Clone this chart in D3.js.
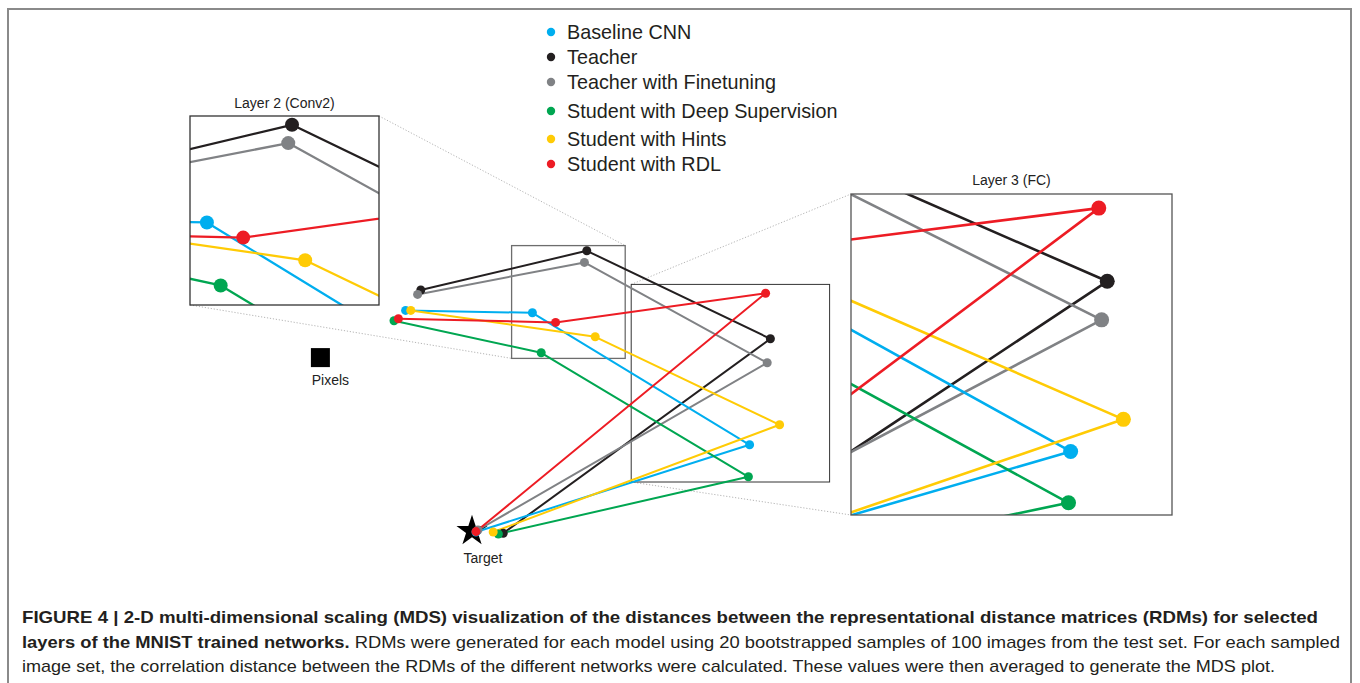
<!DOCTYPE html>
<html>
<head>
<meta charset="utf-8">
<script src="https://cdn.jsdelivr.net/npm/d3@7"></script>
<style>
  body { margin: 0; background: #fff; }
  svg { display: block; font-family: "Liberation Sans", Arial, sans-serif; }
</style>
</head>
<body>
<svg id="fig"></svg>
<script>
// ----------------------------------------
// Data (MDS coordinates)
// ----------------------------------------
const seriesNames = ["Baseline CNN", "Teacher", "Teacher with Finetuning",
  "Student with Deep Supervision", "Student with Hints", "Student with RDL"];
const seriesColors = ["#00aeef", "#231f20", "#808285", "#00a651", "#ffcb05", "#ed1c24"];
const layerNames = ["Conv1", "Conv2", "FC", "Output"];

// dim1 / dim2 per series, one value per layer
const dim1 = [
  [-0.166, 0.151, 0.694, 0.010],
  [-0.128, 0.287, 0.746, 0.078],
  [-0.136, 0.281, 0.738, 0.015],
  [-0.195, 0.173, 0.691, 0.066],
  [-0.153, 0.308, 0.769, 0.053],
  [-0.184, 0.209, 0.734, 0.010]
];
const dim2 = [
  [0.549, 0.543, 0.213, -0.005],
  [0.600, 0.698, 0.478, -0.008],
  [0.589, 0.669, 0.418, 0.000],
  [0.523, 0.443, 0.133, -0.010],
  [0.549, 0.483, 0.263, -0.005],
  [0.528, 0.519, 0.592, -0.004]
];
const drawOrder = [1, 2, 0, 3, 4, 5];

const pixelsPoint = [-0.379, 0.431];
const targetPoint = [0.0, 0.0];

// zoom windows: the box drawn on the main plot and the window shown in the inset
const zoomTitles = ["Layer 2 (Conv2)", "Layer 3 (FC)"];
const zoomBoxX = [[0.099, 0.383], [0.398, 0.894]];
const zoomBoxY = [[0.711, 0.429], [0.614, 0.120]];
const insetDomX = [[0.124, 0.426], [0.382, 0.838]];
const insetDomY = [[0.712, 0.412], [0.614, 0.114]];

const captionBold1 = "FIGURE 4 | 2-D multi-dimensional scaling (MDS) visualization of the distances between the representational distance matrices (RDMs) for selected";
const captionBold2 = "layers of the MNIST trained networks.";
const captionText2 = " RDMs were generated for each model using 20 bootstrapped samples of 100 images from the test set. For each sampled";
const captionText3 = "image set, the correlation distance between the RDMs of the different networks were calculated. These values were then averaged to generate the MDS plot.";

// ----------------------------------------
// Setup
// ----------------------------------------
const width = 1360, height = 683;
const svg = d3.select("#fig").attr("width", width).attr("height", height);

svg.append("rect")
  .attr("x", 8).attr("y", 9)
  .attr("width", 1343).attr("height", 720)
  .attr("fill", "none").attr("stroke", "#8a8a8a").attr("stroke-width", 2);

const x = d3.scaleLinear().domain([0, 1]).range([472, 872]);
const y = d3.scaleLinear().domain([0, 1]).range([530, 130]);

// inset placement
const insetRects = [
  {x0: 190, y0: 116, size: 189},
  {x0: 851, y0: 194, size: 321}
];

const series = drawOrder.map(i => ({
  name: seriesNames[i],
  color: seriesColors[i],
  pts: layerNames.map((l, j) => [dim1[i][j], dim2[i][j]])
}));

// ----------------------------------------
// Dotted connectors between zoom boxes and insets
// ----------------------------------------
const conn = svg.append("g")
  .attr("stroke", "#b5b5b5").attr("stroke-width", 1)
  .attr("stroke-dasharray", "1.2,1.8").attr("fill", "none");

// layer 2: inset top-right -> box top-right, inset bottom-left -> box bottom-left
conn.append("line")
  .attr("x1", insetRects[0].x0 + insetRects[0].size).attr("y1", insetRects[0].y0)
  .attr("x2", x(zoomBoxX[0][1])).attr("y2", y(zoomBoxY[0][0]));
conn.append("line")
  .attr("x1", insetRects[0].x0).attr("y1", insetRects[0].y0 + insetRects[0].size)
  .attr("x2", x(zoomBoxX[0][0])).attr("y2", y(zoomBoxY[0][1]));
// layer 3: box top-left -> inset top-left, box bottom-left -> inset bottom-left
conn.append("line")
  .attr("x1", x(zoomBoxX[1][0])).attr("y1", y(zoomBoxY[1][0]))
  .attr("x2", insetRects[1].x0).attr("y2", insetRects[1].y0);
conn.append("line")
  .attr("x1", x(zoomBoxX[1][0])).attr("y1", y(zoomBoxY[1][1]))
  .attr("x2", insetRects[1].x0).attr("y2", insetRects[1].y0 + insetRects[1].size);

// ----------------------------------------
// Main plot
// ----------------------------------------
const main = svg.append("g");

// zoom boxes
zoomBoxX.forEach((bx, k) => {
  main.append("rect")
    .attr("x", x(bx[0])).attr("y", y(zoomBoxY[k][0]))
    .attr("width", x(bx[1]) - x(bx[0]))
    .attr("height", y(zoomBoxY[k][1]) - y(zoomBoxY[k][0]))
    .attr("fill", "none")
    .attr("stroke", k === 0 ? "#6d6d6d" : "#333")
    .attr("stroke-width", k === 0 ? 1.3 : 1);
});

// pixels
main.append("rect")
  .attr("x", x(pixelsPoint[0]) - 9.5).attr("y", y(pixelsPoint[1]) - 9.5)
  .attr("width", 19).attr("height", 19).attr("fill", "#000");
main.append("text")
  .attr("x", x(pixelsPoint[0]) + 10).attr("y", y(pixelsPoint[1]) + 27)
  .attr("text-anchor", "middle").attr("font-size", 14).attr("fill", "#222")
  .text("Pixels");

// target star
main.append("path")
  .attr("transform", `translate(${x(targetPoint[0])},${y(targetPoint[1]) + 1})`)
  .attr("d", d3.symbol(d3.symbolStar).size(300)())
  .attr("fill", "#000");
main.append("text")
  .attr("x", x(targetPoint[0]) + 11).attr("y", y(targetPoint[1]) + 33)
  .attr("text-anchor", "middle").attr("font-size", 14).attr("fill", "#222")
  .text("Target");

function drawSeries(g, sx, sy, lw, r) {
  const ln = d3.line().x(d => sx(d[0])).y(d => sy(d[1]));
  series.forEach(s => {
    g.append("path")
      .attr("d", ln(s.pts))
      .attr("fill", "none")
      .attr("stroke", s.color)
      .attr("stroke-width", lw)
      .attr("stroke-linejoin", "round");
  });
  series.forEach(s => {
    g.selectAll(null)
      .data(s.pts)
      .enter().append("circle")
      .attr("cx", d => sx(d[0]))
      .attr("cy", d => sy(d[1]))
      .attr("r", r)
      .attr("fill", s.color);
  });
}

drawSeries(main, x, y, 2, 4.5);

// ----------------------------------------
// Insets
// ----------------------------------------
const defs = svg.append("defs");

insetRects.forEach((ir, k) => {
  defs.append("clipPath").attr("id", `clip-inset-${k}`)
    .append("rect")
    .attr("x", ir.x0).attr("y", ir.y0)
    .attr("width", ir.size).attr("height", ir.size);

  const ix = d3.scaleLinear().domain(insetDomX[k]).range([ir.x0, ir.x0 + ir.size]);
  const iy = d3.scaleLinear().domain(insetDomY[k]).range([ir.y0, ir.y0 + ir.size]);

  const g = svg.append("g");
  g.append("rect")
    .attr("x", ir.x0).attr("y", ir.y0)
    .attr("width", ir.size).attr("height", ir.size)
    .attr("fill", "#fff");

  const inner = g.append("g").attr("clip-path", `url(#clip-inset-${k})`);
  drawSeries(inner, ix, iy, k === 0 ? 2.3 : 2.6, k === 0 ? 7 : 7.5);

  g.append("rect")
    .attr("x", ir.x0).attr("y", ir.y0)
    .attr("width", ir.size).attr("height", ir.size)
    .attr("fill", "none")
    .attr("stroke", k === 0 ? "#333" : "#555")
    .attr("stroke-width", 1.3);

  g.append("text")
    .attr("x", ir.x0 + ir.size / 2)
    .attr("y", ir.y0 - (k === 0 ? 8 : 9))
    .attr("text-anchor", "middle")
    .attr("font-size", 14)
    .attr("fill", "#222")
    .text(zoomTitles[k]);
});

// ----------------------------------------
// Legend
// ----------------------------------------
const legendRowY = [0, 25, 50, 79, 107, 132];
const legend = svg.append("g").attr("transform", "translate(551,32)");
seriesNames.forEach((name, i) => {
  const row = legend.append("g").attr("transform", `translate(0,${legendRowY[i]})`);
  row.append("circle").attr("r", 4.2).attr("fill", seriesColors[i]);
  row.append("text")
    .attr("x", 16).attr("y", 7)
    .attr("font-size", 19.8).attr("fill", "#231f20")
    .text(name);
});

// ----------------------------------------
// Caption
// ----------------------------------------
const cap = svg.append("g").attr("fill", "#231f20").attr("font-size", 17);

cap.append("text")
  .attr("x", 22).attr("y", 623)
  .attr("font-weight", "bold")
  .attr("textLength", 1296).attr("lengthAdjust", "spacingAndGlyphs")
  .text(captionBold1);

const c2 = cap.append("text")
  .attr("x", 22).attr("y", 648)
  .attr("textLength", 1318).attr("lengthAdjust", "spacingAndGlyphs");
c2.append("tspan").attr("font-weight", "bold").text(captionBold2);
c2.append("tspan").text(captionText2);

cap.append("text")
  .attr("x", 22).attr("y", 672)
  .attr("textLength", 1253).attr("lengthAdjust", "spacingAndGlyphs")
  .text(captionText3);
</script>
</body>
</html>
